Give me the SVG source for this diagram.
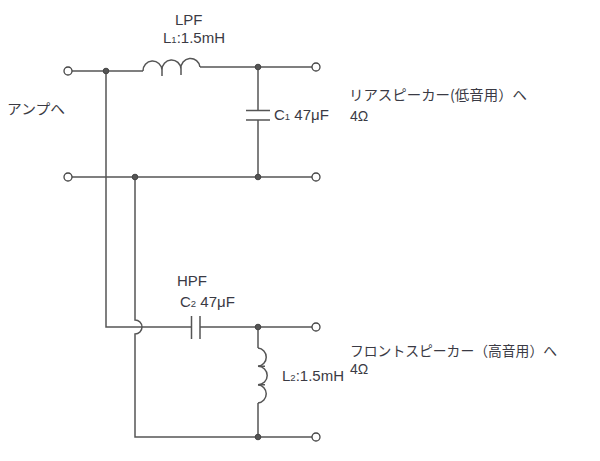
<svg xmlns="http://www.w3.org/2000/svg" width="600" height="461" viewBox="0 0 600 461">
<style>
.w{fill:none;stroke:#555;stroke-width:1.5}
.t{fill:#fff;stroke:#444;stroke-width:1.3}
.j{fill:#555;stroke:#444;stroke-width:1}
.l{font-family:"Liberation Sans",Arial,sans-serif;font-size:15px;fill:#3a3a44}
.o{font-family:"Liberation Sans",Arial,sans-serif;font-size:14px;fill:#3a3a44}
.jp{font-family:"Noto Sans CJK JP","Liberation Sans",sans-serif;font-size:14px;fill:#3a3a44}
.s{font-size:9.5px}
</style>
<rect width="600" height="461" fill="#fff"/>
<g id="connectors">
<path class="w" d="M72,71 H143"/>
<path class="w" d="M200,67 H312"/>
<path class="w" d="M72,177 H312"/>
<path class="w" d="M106,71 V327 H191.5"/>
<path class="w" d="M200,327 H312"/>
<path class="w" d="M135,177 V320 A7,7 0 0 1 135,334 V437 H312"/>
<path class="w" d="M258,67 V110.5 M258,120 V177"/>
<path class="w" d="M258,327 V348 M258,403 V437"/>
</g>
<g id="L1">
<path class="w" d="M143,71 A9.5,9.5 0 0 1 162,70 A9.5,9.5 0 0 1 181,69 A9.5,9.5 0 0 1 200,67"/>
<path class="w" d="M162,70 V76 M181,69 V75"/>
<text class="l" x="163" y="43">L<tspan class="s">1</tspan>:1.5mH</text>
<text class="l" x="175" y="25">LPF</text>
</g>
<g id="C1">
<path class="w" d="M246,110.5 H270 M246,120 H270"/>
<text class="l" x="274" y="120">C<tspan class="s">1</tspan> 47μF</text>
</g>
<g id="C2">
<path class="w" d="M191.5,316 V339 M200,316 V339"/>
<text class="l" x="177" y="286">HPF</text>
<text class="l" x="180" y="307">C<tspan class="s">2</tspan> 47μF</text>
</g>
<g id="L2">
<path class="w" d="M258,348 A9.2,9.2 0 0 1 258,366.3 A9.2,9.2 0 0 1 258,384.7 A9.2,9.2 0 0 1 258,403"/>
<path class="w" d="M258,366.3 H265 M258,384.7 H265"/>
<text class="l" x="282" y="381">L<tspan class="s">2</tspan>:1.5mH</text>
</g>
<g id="terminals">
<circle class="t" cx="68" cy="71" r="4"/>
<circle class="t" cx="68" cy="177" r="4"/>
<circle class="t" cx="316" cy="67" r="4"/>
<circle class="t" cx="316" cy="177" r="4"/>
<circle class="t" cx="316" cy="327" r="4"/>
<circle class="t" cx="316" cy="437" r="4"/>
</g>
<g id="junctions">
<circle class="j" cx="106" cy="71" r="2.8"/>
<circle class="j" cx="135" cy="177" r="2.8"/>
<circle class="j" cx="258" cy="67" r="2.8"/>
<circle class="j" cx="258" cy="177" r="2.8"/>
<circle class="j" cx="258" cy="327" r="2.8"/>
<circle class="j" cx="258" cy="437" r="2.8"/>
</g>
<g id="amp">
<text class="jp" x="7" y="114" textLength="58" lengthAdjust="spacingAndGlyphs">アンプへ</text>
</g>
<g id="rear">
<text class="jp" x="349" y="100" textLength="178" lengthAdjust="spacingAndGlyphs">リアスピーカー(低音用）へ</text>
<text class="o" x="350" y="121">4Ω</text>
</g>
<g id="front">
<text class="jp" x="350" y="356" textLength="207" lengthAdjust="spacingAndGlyphs">フロントスピーカー（高音用）へ</text>
<text class="o" x="350" y="374">4Ω</text>
</g>
</svg>
